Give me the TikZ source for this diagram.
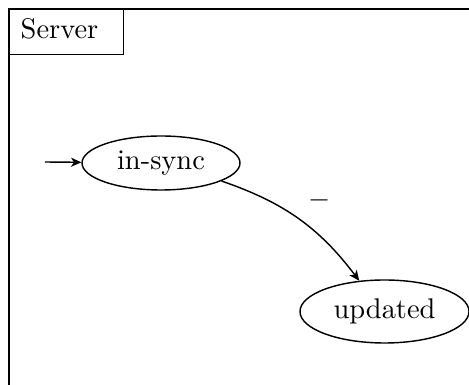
\documentclass[tikz,border=0pt]{standalone}
\usetikzlibrary{shapes.geometric,arrows.meta}
\begin{document}
\begin{tikzpicture}[x=0.3515pt,y=-0.3515pt,line width=0.5pt,
  state/.style={draw,ellipse,inner sep=0pt},
  edge/.style={-{Stealth[length=3.6pt,width=3.2pt,inset=1pt]}}]
\useasboundingbox (0,0) rectangle (469,385);
\clip (0,0) rectangle (469,385);
% outer frame (extends beyond the picture)
\draw (9,9) rectangle (700,600);
% title box
\node (serverbox) [draw, rectangle, anchor=north west, inner sep=0pt,
  minimum width=114*0.3515pt, minimum height=45*0.3515pt] at (9,9) {};
\node (servertext) [anchor=base west, inner sep=0pt] at (20,39) {Server};
% states
\node (insync) [state, minimum width=158*0.3515pt, minimum height=54*0.3515pt] at (161,163) {in-sync};
\node (updated) [state, minimum width=169*0.3515pt, minimum height=63*0.3515pt] at (384.5,311.5) {updated};
% initial arrow
\coordinate (start) at (45,162);
\draw[edge] (start) -- (insync);
% transition
\draw[edge] (insync) to[bend left=17] (updated);
\node (lbl) [inner sep=0pt] at (319.5,200) {$-$};
\end{tikzpicture}
\end{document}
